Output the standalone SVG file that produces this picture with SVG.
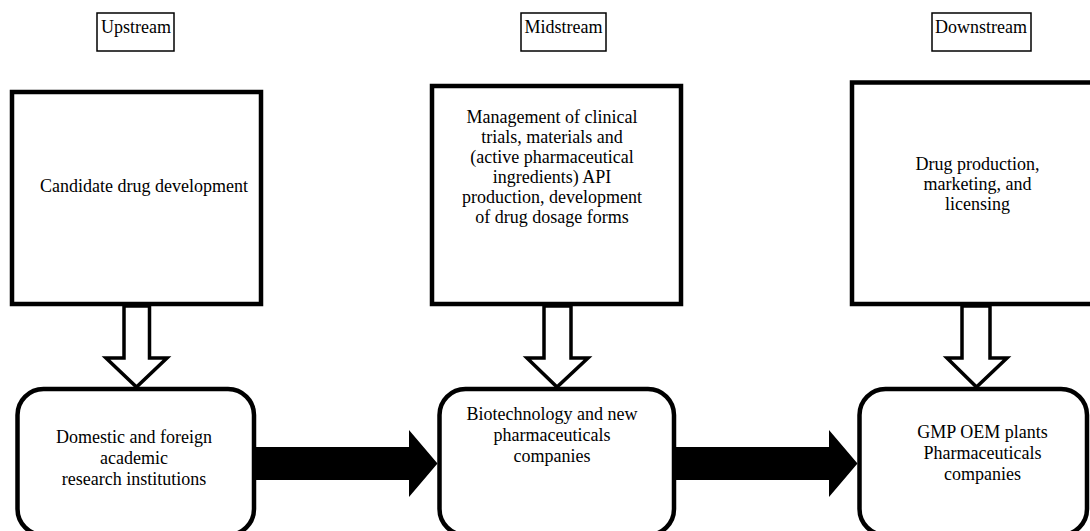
<svg xmlns="http://www.w3.org/2000/svg" width="1090" height="531" viewBox="0 0 1090 531">
<style>
text{font-family:"Liberation Serif","Times New Roman",serif;font-size:18px;fill:#000;text-anchor:middle}
.lbl{fill:#fff;stroke:#000;stroke-width:1.5}
.box{fill:#fff;stroke:#000;stroke-width:4.5}
.hollow{fill:#fff;stroke:#000;stroke-width:3.5;stroke-linejoin:miter}
.solid{fill:#000;stroke:none}
</style>
<rect width="1090" height="531" fill="#fff"/>
<g id="label-upstream"><rect class="lbl" x="97" y="13" width="77" height="38"/><text x="136" y="33">Upstream</text></g>
<g id="label-midstream"><rect class="lbl" x="521" y="13" width="85" height="38"/><text x="563.5" y="33">Midstream</text></g>
<g id="label-downstream"><rect class="lbl" x="932" y="13" width="99" height="38"/><text x="981" y="33">Downstream</text></g>

<g id="up-task"><rect class="box" x="12" y="92" width="249" height="212"/><text x="144" y="192">Candidate drug development</text></g>
<g id="mid-task"><rect class="box" x="432" y="86" width="249" height="218"/>
<text x="552" y="123">Management of clinical</text>
<text x="552" y="143">trials, materials and</text>
<text x="552" y="163">(active pharmaceutical</text>
<text x="552" y="183">ingredients) API</text>
<text x="552" y="203">production, development</text>
<text x="552" y="223">of drug dosage forms</text></g>
<g id="down-task"><rect class="box" x="852" y="82.5" width="260" height="221.5"/>
<text x="977.5" y="170">Drug production,</text>
<text x="977.5" y="190">marketing, and</text>
<text x="977.5" y="210">licensing</text></g>

<g id="up-actor"><rect class="box" x="17.5" y="389" width="236.5" height="146" rx="26" ry="26"/>
<text x="134" y="443">Domestic and foreign</text>
<text x="134" y="464">academic</text>
<text x="134" y="485">research institutions</text></g>
<g id="mid-actor"><rect class="box" x="439.5" y="389" width="234.5" height="146" rx="26" ry="26"/>
<text x="552" y="420">Biotechnology and new</text>
<text x="552" y="441">pharmaceuticals</text>
<text x="552" y="462">companies</text></g>
<g id="down-actor"><rect class="box" x="859.5" y="389" width="227.5" height="146" rx="26" ry="26"/>
<text x="982.5" y="438">GMP OEM plants</text>
<text x="982.5" y="459">Pharmaceuticals</text>
<text x="982.5" y="480">companies</text></g>

<g id="connectors">
<polygon class="hollow" points="124,306 124,358 106,358 136.5,387 167,358 149.5,358 149.5,306"/>
<polygon class="hollow" points="544,306 544,358 527,358 557,387 588,358 571,358 571,306"/>
<polygon class="hollow" points="962,306 962,358 947,358 976.5,387 1007,358 990,358 990,306"/>
<polygon class="solid" points="256,447 409,447 409,430 437.5,463.5 409,497 409,480 256,480"/>
<polygon class="solid" points="676,447 829,447 829,430 857.5,463.5 829,497 829,480 676,480"/>
</g>
</svg>
